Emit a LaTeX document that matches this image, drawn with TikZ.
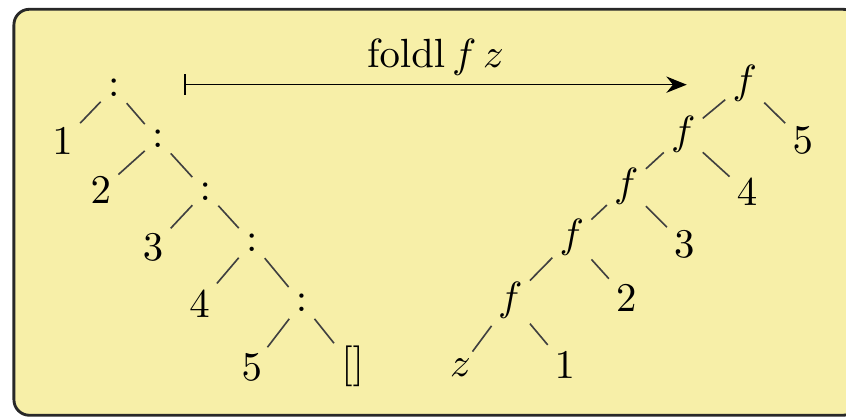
\documentclass[tikz,border=0pt]{standalone}
\usepackage{amsmath,amssymb}
\usepackage{tikz}
\usetikzlibrary{arrows,arrows.meta}

\definecolor{boxyellow}{RGB}{247,239,168}
\definecolor{boxline}{RGB}{40,40,40}

\begin{document}
\begin{tikzpicture}[
tnode/.style={inner sep=1.6pt},
branch/.style={line width=0.4pt,draw=black!75},
arrow/.style={{Bar[width=5pt]}-{Stealth[length=5pt,width=4pt]},line width=0.4pt},
arrowlabel/.style={inner sep=2pt} ]

\useasboundingbox (0,0) rectangle (7.293,-3.620);

\draw[boxline,fill=boxyellow,line width=0.7pt,rounded corners=3.8pt] (0.12,-0.08) rectangle (7.40,-3.58);

% list built with (:)
\node[tnode](c1) at (0.98,-0.76) {$:$};
\node[tnode](n1) at (0.54,-1.22) {$1$};
\node[tnode](c2) at (1.36,-1.20) {$:$};
\node[tnode](n2) at (0.87,-1.64) {$2$};
\node[tnode](c3) at (1.77,-1.65) {$:$};
\node[tnode](n3) at (1.32,-2.13) {$3$};
\node[tnode](c4) at (2.17,-2.09) {$:$};
\node[tnode](n4) at (1.72,-2.62) {$4$};
\node[tnode](c5) at (2.60,-2.61) {$:$};
\node[tnode](n5) at (2.17,-3.17) {$5$};
\node[tnode](nil) at (3.04,-3.16) {$[]$};

\draw[branch] (c1) -- (n1);
\draw[branch] (c1) -- (c2);
\draw[branch] (c2) -- (n2);
\draw[branch] (c2) -- (c3);
\draw[branch] (c3) -- (n3);
\draw[branch] (c3) -- (c4);
\draw[branch] (c4) -- (n4);
\draw[branch] (c4) -- (c5);
\draw[branch] (c5) -- (n5);
\draw[branch] (c5) -- (nil);

% folded result
\node[tnode](f1) at (6.42,-0.72) {$f$};
\node[tnode](m5) at (6.92,-1.21) {$5$};
\node[tnode](f2) at (5.89,-1.16) {$f$};
\node[tnode](m4) at (6.44,-1.66) {$4$};
\node[tnode](f3) at (5.40,-1.61) {$f$};
\node[tnode](m3) at (5.90,-2.11) {$3$};
\node[tnode](f4) at (4.93,-2.05) {$f$};
\node[tnode](m2) at (5.40,-2.57) {$2$};
\node[tnode](f5) at (4.40,-2.59) {$f$};
\node[tnode](z) at (3.97,-3.17) {$z$};
\node[tnode](m1) at (4.87,-3.15) {$1$};

\draw[branch] (f1) -- (f2);
\draw[branch] (f1) -- (m5);
\draw[branch] (f2) -- (f3);
\draw[branch] (f2) -- (m4);
\draw[branch] (f3) -- (f4);
\draw[branch] (f3) -- (m3);
\draw[branch] (f4) -- (f5);
\draw[branch] (f4) -- (m2);
\draw[branch] (f5) -- (z);
\draw[branch] (f5) -- (m1);

\coordinate (from) at (1.59,-0.73);
\coordinate (to) at (5.92,-0.73);
\draw[arrow] (from) -- node[above, arrowlabel] {$\mathrm{foldl}\,f\,z$} (to);

\end{tikzpicture}
\end{document}
